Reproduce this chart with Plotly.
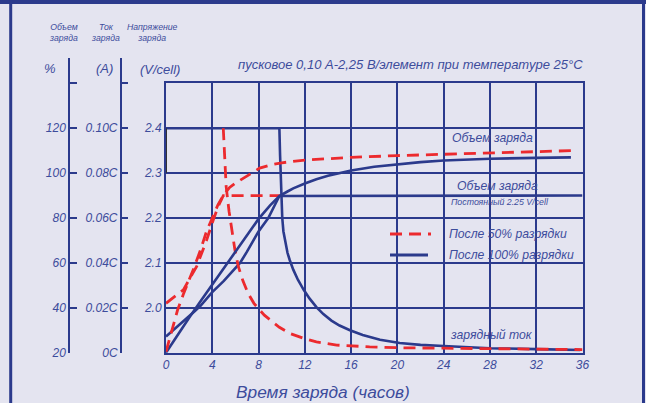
import plotly.graph_objects as go

W, H = 646, 403

# ---------------- data ----------------
# time axis (hours)
x_ticks = [0, 4, 8, 12, 16, 20, 24, 28, 32, 36]
x_tick_labels = ["0", "4", "8", "12", "16", "20", "24", "28", "32", "36"]

v_ticks = [2.0, 2.1, 2.2, 2.3, 2.4]
v_tick_labels = ["2.0", "2.1", "2.2", "2.3", "2.4"]
pct_ticks = [20, 40, 60, 80, 100, 120, 140]
pct_tick_labels = ["20", "40", "60", "80", "100", "120", ""]
cur_ticks = [0, 0.02, 0.04, 0.06, 0.08, 0.10, 0.12]
cur_tick_labels = ["0C", "0.02C", "0.04C", "0.06C", "0.08C", "0.10C", ""]

# After 100% discharge (solid blue)
t_vol100 = [0, 1, 2, 3, 4, 5, 6, 7, 8, 9, 9.8, 10.5, 11, 12, 13, 14, 15, 16, 18, 20, 22,
            24, 28, 32, 35]
vol100 = [20, 28, 35.6, 43, 50.4, 57.6, 64.8, 72.4, 79.6, 85.6, 89.8, 91.8, 93.2, 95.4,
          97.3, 98.8, 100.1, 101.2, 102.8, 104, 104.9, 105.6, 106.4, 106.8, 107]
t_volt100 = [0, 1, 2, 2.5, 3, 4, 5, 6, 6.4, 7, 8, 8.84, 9.3, 9.8, 36]
volt100 = [1.936, 1.958, 1.98, 1.993, 2.005, 2.035, 2.06, 2.088, 2.1, 2.125, 2.17, 2.2,
           2.223, 2.249, 2.25]
t_cur100 = [0, 9.8, 9.86, 9.92, 9.98, 10.05, 10.15, 10.3, 10.5, 10.7, 11.0, 11.4, 11.9,
            12.4, 13.0, 13.6, 14.3, 15.0, 15.9, 17.0, 18.5, 20.2, 22, 24, 28, 32, 35.8]
cur100 = [0.10, 0.10, 0.088, 0.077, 0.068, 0.060, 0.054, 0.049, 0.0445, 0.0412, 0.037,
          0.0325, 0.028, 0.0242, 0.0203, 0.0172, 0.0143, 0.0121, 0.010, 0.0079, 0.0058,
          0.0043, 0.0035, 0.003, 0.002, 0.0016, 0.0012]

# After 50% discharge (dashed red)
t_vol50 = [0, 0.5, 1, 1.5, 2, 2.4, 3, 3.5, 4, 4.5, 4.95, 5.5, 6, 6.4, 7, 8.1, 9, 10, 12,
           14, 16, 20, 24, 28, 32, 35]
vol50 = [20.4, 30, 39, 46, 52, 57.6, 66, 74, 80, 86, 90, 93.6, 95.5, 96.8, 99, 102.2,
         103.6, 104.6, 105.8, 106.5, 107, 107.8, 108.4, 109, 109.6, 110]
t_volt50 = [0, 1.5, 2.65, 3.5, 4.09, 4.5, 4.95, 10]
volt50 = [2.01, 2.04, 2.092, 2.15, 2.196, 2.225, 2.25, 2.25]
t_cur50 = [4.95, 5.05, 5.2, 5.45, 5.68, 5.95, 6.25, 6.65, 7.1, 7.6, 8.1, 8.5, 9.0, 9.8,
           10.7, 11.9, 13, 14.75, 17.6, 20.2, 28, 36]
cur50 = [0.10, 0.086, 0.074, 0.063, 0.0546, 0.046, 0.0384, 0.032, 0.0264, 0.022, 0.019,
         0.0167, 0.0146, 0.0113, 0.0086, 0.0064, 0.0048, 0.0034, 0.0026, 0.0022, 0.0018,
         0.0014]

# ---------------- style ----------------
BG = "#e4e4f0"
NAVY = "#2b3a8c"
TXT = "#3d4c9c"
RED = "#ec2a2e"
FONT = "Liberation Sans, Arial, sans-serif"


def PX(px):
    return px / W


def PY(py):
    return 1 - py / H


fig = go.Figure()

blue_line = dict(color=NAVY, width=2.6)
red_line = dict(color=RED, width=2.8, dash="12px,7px")

fig.add_trace(go.Scatter(x=t_volt100, y=volt100, mode="lines", line=blue_line,
                         xaxis="x", yaxis="y", showlegend=False, hoverinfo="skip"))
fig.add_trace(go.Scatter(x=t_vol100, y=vol100, mode="lines", line=blue_line,
                         xaxis="x", yaxis="y5", showlegend=False, hoverinfo="skip"))
fig.add_trace(go.Scatter(x=t_cur100, y=cur100, mode="lines", line=blue_line,
                         xaxis="x", yaxis="y4", showlegend=False, hoverinfo="skip"))
fig.add_trace(go.Scatter(x=t_volt50, y=volt50, mode="lines", line=red_line,
                         xaxis="x", yaxis="y", showlegend=False, hoverinfo="skip"))
fig.add_trace(go.Scatter(x=t_vol50, y=vol50, mode="lines", line=red_line,
                         xaxis="x", yaxis="y5", showlegend=False, hoverinfo="skip"))
fig.add_trace(go.Scatter(x=t_cur50, y=cur50, mode="lines", line=red_line,
                         xaxis="x", yaxis="y4", showlegend=False, hoverinfo="skip"))

# dummy traces so the side scales are drawn
fig.add_trace(go.Scatter(x=[None], y=[None], xaxis="x2", yaxis="y2", showlegend=False,
                         hoverinfo="skip"))
fig.add_trace(go.Scatter(x=[None], y=[None], xaxis="x2", yaxis="y3", showlegend=False,
                         hoverinfo="skip"))

plot_x = [PX(166), PX(582.5)]
plot_y = [PY(352.7), PY(83.3)]
side_y = [PY(352.7), PY(58)]
px_per_unit = (352.7 - 83.3) / 6.0

italic12 = dict(family=FONT, size=12, color=TXT, style="italic")

fig.update_layout(
    width=W, height=H, autosize=False,
    margin=dict(l=0, r=0, t=0, b=0, pad=0),
    paper_bgcolor=BG, plot_bgcolor=BG,
    font=dict(family=FONT, color=TXT, style="italic"),
    xaxis=dict(domain=plot_x, range=[0, 36], tickvals=x_ticks, ticktext=x_tick_labels,
               showgrid=True, gridcolor=NAVY, gridwidth=2, zeroline=False,
               showline=True, linecolor=NAVY, linewidth=2, mirror=True,
               ticks="", tickfont=italic12, anchor="y", automargin=False),
    yaxis=dict(domain=plot_y, range=[1.9, 2.5], tickvals=v_ticks, ticktext=v_tick_labels,
               showgrid=True, gridcolor=NAVY, gridwidth=2, zeroline=False,
               showline=True, linecolor=NAVY, linewidth=2, mirror=True,
               ticks="inside", ticklen=4, tickwidth=2, tickcolor=NAVY,
               tickfont=italic12, anchor="x", automargin=False),
    yaxis4=dict(overlaying="y", range=[0, 0.12], visible=False, automargin=False),
    yaxis5=dict(overlaying="y", range=[20, 140], visible=False, automargin=False),
    xaxis2=dict(domain=[0, 0.005], range=[0, 1], visible=False, anchor="y2",
                automargin=False),
    yaxis2=dict(domain=side_y, range=[20, 20 + (352.7 - 58) / px_per_unit * 20],
                anchor="free", position=PX(69), side="left",
                tickvals=pct_ticks, ticktext=pct_tick_labels,
                showgrid=False, zeroline=False, showline=True, linecolor=NAVY,
                linewidth=1.5, ticks="inside", ticklen=7, tickwidth=1.5,
                tickcolor=NAVY, tickfont=italic12, automargin=False),
    yaxis3=dict(overlaying="y2", range=[0, (352.7 - 58) / px_per_unit * 0.02],
                anchor="free", position=PX(120.7), side="left",
                tickvals=cur_ticks, ticktext=cur_tick_labels,
                showgrid=False, zeroline=False, showline=True, linecolor=NAVY,
                linewidth=1.5, ticks="inside", ticklen=7, tickwidth=1.5,
                tickcolor=NAVY, tickfont=italic12, automargin=False),
)

# frame around the picture
shapes = [
    dict(type="rect", xref="paper", yref="paper", x0=0, x1=1, y0=PY(4), y1=1,
         fillcolor=NAVY, line=dict(width=0), layer="above"),
    dict(type="line", xref="paper", yref="paper", x0=PX(10.7), x1=PX(10.7), y0=0, y1=1,
         line=dict(color=NAVY, width=3)),
    dict(type="line", xref="paper", yref="paper", x0=PX(643.5), x1=PX(643.5), y0=0, y1=1,
         line=dict(color=NAVY, width=3)),
    # dark mark at left edge between 2.3 and 2.4
    dict(type="line", xref="x", yref="y", x0=0, x1=0, y0=2.3, y1=2.4,
         line=dict(color="#333333", width=2), layer="above"),
    # legend samples
    dict(type="line", xref="paper", yref="paper", x0=PX(390), x1=PX(431), y0=PY(234),
         y1=PY(234), line=dict(color=RED, width=2.8, dash="12px,7px")),
    dict(type="line", xref="paper", yref="paper", x0=PX(390), x1=PX(428), y0=PY(255),
         y1=PY(255), line=dict(color=NAVY, width=3)),
]
fig.update_layout(shapes=shapes)


def note(text, x, y, size, xanchor="center"):
    fig.add_annotation(text=text, xref="paper", yref="paper", x=PX(x), y=PY(y),
                       xanchor=xanchor, yanchor="middle", showarrow=False,
                       font=dict(family=FONT, size=size, color=TXT, style="italic"))


note("Объем<br>заряда", 63, 32.5, 8.7)
note("Ток<br>заряда", 105, 32.5, 8.7)
note("Напряжение<br>заряда", 152, 32.5, 8.7)
note("%", 50, 68, 13)
note("(A)", 104.5, 68, 13)
note("(V/cell)", 160, 70, 13)
note("пусковое 0,10 A-2,25 В/элемент при температуре 25°C", 410.5, 65, 13)
note("Объем заряда", 492, 138, 12.2)
note("Объем заряда", 497, 186, 12.2)
note("Постоянный 2.25 V/cell", 500.5, 202, 8.8)
note("После 50% разрядки", 447, 234, 12.2, "left")
note("После 100% разрядки", 447, 255, 12.2, "left")
note("зарядный ток", 491, 335, 12.2)
note("Время заряда (часов)", 323, 391.5, 17.3)

fig.write_html(
    "out.html", config={"displayModeBar": False},
    post_script=("document.body.style.margin='0';"
                 "document.body.style.overflow='hidden';"
                 "document.documentElement.style.overflow='hidden';"))
